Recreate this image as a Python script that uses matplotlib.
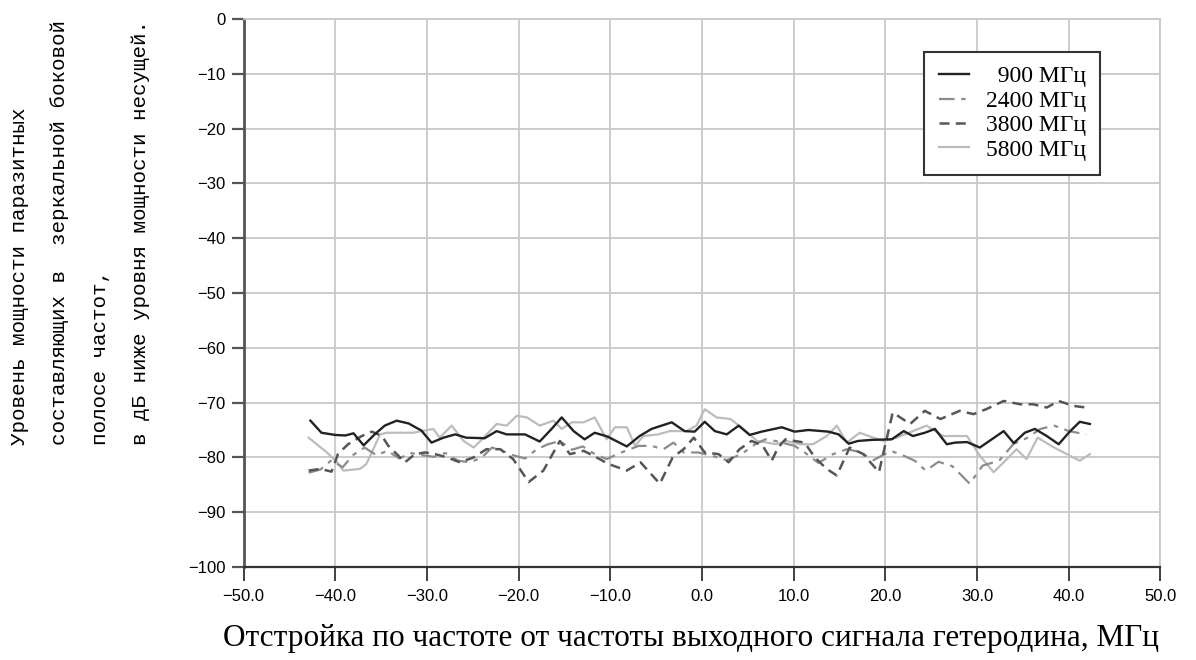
import numpy as np
import matplotlib
matplotlib.use('Agg')
from matplotlib import pyplot as plt
from matplotlib.ticker import FuncFormatter

# Data (offset in MHz, level in dB)
x_900 = [-42.7, -41.5, -40.0, -38.9, -38.0, -36.9, -35.7, -34.6, -33.3, -32.0, -30.6,
         -29.5, -28.2, -26.9, -25.7, -23.7, -22.4, -21.3, -19.3, -17.7, -16.4, -15.3,
         -14.0, -12.8, -11.7, -10.3, -8.2, -6.8, -5.5, -3.3, -1.9, -0.8, 0.3, 1.4, 2.7,
         4.0, 5.2, 6.5, 8.7, 10.1, 11.6, 13.8, 14.9, 16.0, 17.0, 18.5, 20.7, 22.0, 23.0,
         24.3, 25.4, 26.7, 27.6, 28.9, 30.3, 31.6, 32.9, 34.0, 35.2, 36.3, 37.6, 38.9,
         40.1, 41.2, 42.3]
y_900 = [-73.3, -75.5, -75.9, -76.0, -75.6, -77.8, -75.8, -74.2, -73.3, -73.8, -75.1,
         -77.3, -76.4, -75.8, -76.4, -76.5, -75.2, -75.8, -75.8, -77.1, -74.8, -72.7,
         -75.2, -76.7, -75.5, -76.2, -78.0, -76.1, -74.8, -73.6, -75.2, -75.3, -73.5,
         -75.2, -75.8, -74.2, -75.9, -75.3, -74.5, -75.3, -75.0, -75.3, -75.8, -77.5,
         -77.0, -76.8, -76.7, -75.2, -76.1, -75.5, -74.8, -77.6, -77.3, -77.2, -78.2,
         -76.7, -75.2, -77.4, -75.5, -74.8, -76.1, -77.6, -75.3, -73.5, -73.9]

x_2400 = [-42.9, -41.6, -40.4, -39.2, -38.0, -36.8, -35.5, -34.3, -33.0, -31.8, -30.5,
          -29.2, -28.0, -26.6, -25.3, -24.0, -22.9, -21.8, -20.6, -19.3, -18.0, -16.8,
          -15.5, -14.2, -13.0, -11.7, -10.4, -8.8, -6.9, -5.5, -4.2, -3.1, -2.0, -0.4,
          1.1, 2.7, 4.3, 5.8, 6.9, 8.0, 10.1, 11.2, 12.7, 14.3, 15.8, 17.2, 18.7, 20.6,
          22.0, 23.2, 24.4, 25.8, 27.3, 29.2, 30.6, 32.4, 34.0, 35.4, 36.9, 38.4, 40.0,
          41.9]
y_2400 = [-82.8, -82.2, -80.5, -81.8, -79.5, -78.2, -79.6, -78.8, -80.2, -79.2, -79.6,
          -79.9, -79.2, -80.6, -80.9, -80.0, -78.2, -78.8, -79.6, -80.2, -78.5, -77.6,
          -77.0, -78.6, -78.0, -79.4, -80.3, -79.1, -77.9, -77.9, -78.5, -77.3, -79.1,
          -79.1, -79.7, -80.5, -79.4, -77.6, -76.7, -77.0, -77.9, -79.1, -81.0, -79.4,
          -78.5, -79.0, -80.5, -78.8, -79.7, -80.6, -82.4, -80.8, -81.6, -84.8, -81.5,
          -80.6, -77.5, -76.5, -74.8, -74.2, -75.2, -75.8]

x_3800 = [-42.9, -41.6, -40.4, -39.7, -38.6, -37.1, -36.0, -34.9, -34.2, -33.1, -32.4,
          -31.3, -30.2, -29.1, -27.8, -26.4, -24.9, -23.5, -22.0, -20.6, -18.9, -17.3,
          -15.5, -14.4, -12.9, -11.5, -10.2, -8.2, -6.7, -4.6, -3.2, -2.0, -0.9, 0.3,
          1.8, 2.9, 4.1, 5.4, 6.6, 7.6, 8.3, 9.1, 10.1, 11.2, 12.3, 13.6, 14.7, 16.1,
          17.6, 19.3, 20.8, 22.7, 24.3, 26.0, 28.1, 29.6, 31.0, 32.9, 34.7, 36.1, 37.6,
          38.9, 40.5, 41.9]
y_3800 = [-82.4, -82.1, -82.6, -79.4, -77.6, -76.1, -75.3, -76.1, -77.9, -79.7, -80.9,
          -79.4, -79.1, -79.4, -80.0, -80.9, -80.0, -78.5, -78.5, -80.3, -84.5, -82.4,
          -77.0, -79.4, -78.8, -80.0, -81.2, -82.4, -80.9, -84.8, -80.0, -78.5, -76.4,
          -79.1, -79.4, -80.9, -78.5, -77.0, -77.8, -80.6, -78.2, -76.7, -77.0, -77.3,
          -80.0, -82.1, -83.3, -78.2, -79.4, -82.7, -71.8, -73.9, -71.5, -73.0, -71.5,
          -72.1, -71.2, -69.7, -70.3, -70.3, -70.9, -69.7, -70.6, -70.9]

x_5800 = [-42.9, -40.9, -39.8, -39.1, -37.3, -36.6, -35.1, -34.4, -31.5, -29.3, -28.6,
          -27.3, -26.0, -24.9, -23.8, -22.4, -21.3, -20.2, -19.1, -17.7, -16.2, -15.3,
          -14.2, -12.9, -11.7, -10.4, -9.5, -8.2, -7.3, -6.4, -4.8, -3.5, -1.7, -0.6,
          0.3, 1.6, 3.1, 4.5, 6.0, 7.1, 8.1, 9.2, 10.7, 12.1, 13.6, 14.7, 15.8, 17.2,
          18.7, 19.8, 21.2, 23.0, 24.5, 26.3, 28.9, 30.3, 31.8, 32.9, 34.3, 35.4, 36.6,
          38.4, 39.8, 41.2, 42.3]
y_5800 = [-76.4, -79.1, -80.9, -82.4, -82.1, -81.2, -75.8, -75.5, -75.5, -74.8, -76.4,
          -74.2, -77.0, -78.2, -76.4, -73.9, -74.2, -72.4, -72.7, -74.2, -73.3, -74.8,
          -73.6, -73.6, -72.7, -76.7, -74.5, -74.5, -77.9, -76.1, -75.8, -75.2, -75.2,
          -74.2, -71.2, -72.7, -73.0, -74.8, -77.0, -77.3, -77.6, -77.0, -77.6, -77.6,
          -76.1, -74.2, -77.3, -75.5, -76.4, -77.0, -76.4, -75.2, -74.2, -76.1, -76.1,
          -79.7, -82.7, -80.9, -78.5, -80.3, -76.4, -78.2, -79.4, -80.6, -79.4]

labels = ['  900 МГц', '2400 МГц', '3800 МГц', '5800 МГц']
x_ticks = np.arange(-50, 51, 10)
y_ticks = np.arange(-100, 1, 10)

fig = plt.figure(figsize=(11.96, 6.6), dpi=100)
ax = fig.add_axes([0.2036, 0.1409, 0.7667, 0.8303])

ax.plot(x_900, y_900, color='#222222', lw=1.7, label=labels[0], zorder=5)
ax.plot(x_2400, y_2400, color='#8c8c8c', lw=1.6, ls=(0, (7, 3, 2, 3)), label=labels[1], zorder=3)
ax.plot(x_3800, y_3800, color='#555555', lw=1.8, ls=(0, (4, 2.5)), label=labels[2], zorder=4)
ax.plot(x_5800, y_5800, color='#bcbcbc', lw=1.6, label=labels[3], zorder=2)

ax.set_xlim(-50, 50)
ax.set_ylim(-100, 0)
ax.set_xticks(x_ticks)
ax.set_yticks(y_ticks)
ax.xaxis.set_major_formatter(FuncFormatter(lambda v, p: f'{v:.1f}'.replace('-', '\u2212')))
ax.yaxis.set_major_formatter(FuncFormatter(lambda v, p: f'{v:.0f}'.replace('-', '\u2212')))
ax.grid(True, color='#c8c8c8', lw=1.3)
ax.set_axisbelow(True)

for s in ['top', 'right']:
    ax.spines[s].set_color('#c8c8c8')
    ax.spines[s].set_linewidth(1.3)
ax.spines['left'].set_color('#555555')
ax.spines['left'].set_linewidth(2)
ax.spines['bottom'].set_color('#333333')
ax.spines['bottom'].set_linewidth(1.6)
ax.tick_params(axis='y', length=9, width=1.6, color='#555555', pad=4)
ax.tick_params(axis='x', length=10, width=1.3, color='#333333', pad=6)
for t in ax.get_xticklabels() + ax.get_yticklabels():
    t.set_fontfamily('Liberation Sans')
    t.set_fontsize(12)

leg = ax.legend(loc='upper right', bbox_to_anchor=(0.947, 0.9617), frameon=True,
                fancybox=False, edgecolor='#333333', framealpha=1, handlelength=1.3,
                labelspacing=0.12, borderpad=0.6, handletextpad=0.7,
                prop={'family': 'Liberation Serif', 'size': 17})
leg.get_frame().set_linewidth(1.5)

fig.text(0.578, 0.033, 'Отстройка по частоте от частоты выходного сигнала гетеродина, МГц',
         ha='center', va='center', fontsize=22.5, family='Liberation Serif')

ylines = ['Уровень мощности паразитных',
          'составляющих в  зеркальной боковой',
          'полосе частот,',
          'в дБ ниже уровня мощности несущей.']
for i, line in enumerate(ylines):
    fig.text((20 + 40 * i) / 1196, 1 - 445 / 660, line, rotation=90,
             ha='center', va='bottom', fontsize=15, family='Liberation Mono')

fig.savefig('out.png', dpi=100)
